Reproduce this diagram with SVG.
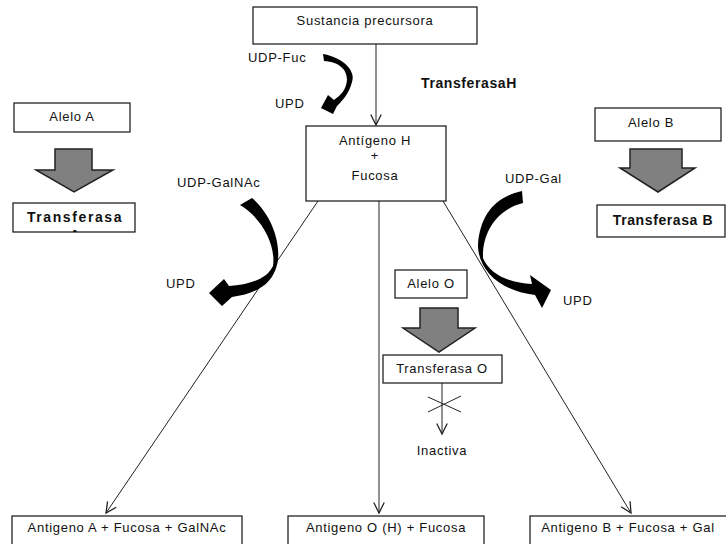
<svg xmlns="http://www.w3.org/2000/svg" width="726" height="544" viewBox="0 0 726 544">
<style>
text{font-family:"Liberation Sans",Arial,sans-serif;font-size:13px;fill:#111;letter-spacing:0.7px}
.c{text-anchor:middle}
.b{font-weight:bold;font-size:14px;letter-spacing:0.6px}
.box{fill:#fff;stroke:#111;stroke-width:1.2}
.blk{fill:#808080;stroke:#222;stroke-width:1.5;stroke-linejoin:miter}
.ln{stroke:#222;stroke-width:1;fill:none}
.cur{fill:#000}
</style>
<defs>
<marker id="v" markerUnits="userSpaceOnUse" markerWidth="14" markerHeight="14" refX="10" refY="5" orient="auto" viewBox="0 0 12 10">
<path d="M1 0.5 L10 5 L1 9.5" fill="none" stroke="#222" stroke-width="1.1"/>
</marker>
<clipPath id="clipA"><rect x="13" y="203" width="122" height="29"/></clipPath>
</defs>
<rect width="726" height="544" fill="#fff"/>

<g id="connectors">
<line class="ln" x1="376" y1="44" x2="376" y2="125" marker-end="url(#v)"/>
<line class="ln" x1="318" y1="201" x2="106" y2="513" marker-end="url(#v)"/>
<line class="ln" x1="379" y1="201" x2="379" y2="513" marker-end="url(#v)"/>
<line class="ln" x1="443" y1="201" x2="631" y2="513" marker-end="url(#v)"/>
<line class="ln" x1="442" y1="383" x2="442" y2="434" marker-end="url(#v)"/>
<path class="ln" d="M428 397 L461 412 M428 412 L461 396" stroke-width="1.4"/>
<path class="cur" d="M323 54 C345 58 356 72 352 82 C349 93 344 99 337 106 L333 114 L321 108 L328 95 L334 100 C341 95 346 90 347 80 C347 70 340 62 324 61 Z"/>
<path class="cur" d="M252 198 C272 215 282 245 277 265 C272 285 255 294 232 297 L222 306 L209 293 L224 279 L229 286 C250 285 268 278 273 266 C276 245 262 218 240 205 Z"/>
<path class="cur" d="M522 191 C495 197 480 215 478 245 C478 270 500 291 535 295 L542 308 L551 290 L530 275 L532 284 C510 283 490 275 483 258 C482 235 495 210 523 203 Z"/>
<polygon class="blk" points="55,149 92,149 92,170 113,170 74,192 36,170 55,170"/>
<polygon class="blk" points="630,149 682,149 682,168 695,168 658,192 620,168 630,168"/>
<polygon class="blk" points="420,308 458,308 458,328 475,328 439,352 403,328 420,328"/>
</g>

<g id="labels">
<text x="248" y="62">UDP-Fuc</text>
<text x="275" y="108">UPD</text>
<text class="b" x="421" y="88">TransferasaH</text>
<text x="177" y="187">UDP-GalNAc</text>
<text x="166" y="288">UPD</text>
<text x="505" y="183">UDP-Gal</text>
<text x="563" y="305">UPD</text>
<text class="c" x="442" y="455">Inactiva</text>
</g>

<g id="precursora">
<rect class="box" x="253" y="7" width="224" height="37"/>
<text class="c" x="365" y="25">Sustancia precursora</text>
</g>

<g id="antigenoH">
<rect class="box" x="306" y="126" width="140" height="75"/>
<text class="c" x="375" y="145">Antígeno H</text>
<text class="c" x="375" y="160">+</text>
<text class="c" x="375" y="180">Fucosa</text>
</g>

<g id="aleloA">
<rect class="box" x="14" y="103" width="116" height="29"/>
<text class="c" x="72" y="121">Alelo A</text>
</g>

<g id="transferasaA">
<rect class="box" x="13" y="203" width="122" height="29"/>
<g clip-path="url(#clipA)">
<text class="c b" x="75" y="222" style="letter-spacing:1.6px">Transferasa</text>
<text class="c b" x="75" y="240">A</text>
</g>
</g>

<g id="aleloB">
<rect class="box" x="595" y="108" width="126" height="33"/>
<text class="c" x="651" y="127">Alelo B</text>
</g>

<g id="transferasaB">
<rect class="box" x="597" y="205" width="128" height="32"/>
<text class="c b" x="663" y="225">Transferasa B</text>
</g>

<g id="aleloO">
<rect class="box" x="395" y="270" width="72" height="28"/>
<text class="c" x="431" y="288">Alelo O</text>
</g>

<g id="transferasaO">
<rect class="box" x="383" y="355" width="119" height="28"/>
<text class="c" x="442" y="373">Transferasa O</text>
</g>

<g id="antigenoA">
<rect class="box" x="12" y="516" width="230" height="40"/>
<text class="c" x="127" y="532">Antigeno A + Fucosa + GalNAc</text>
</g>

<g id="antigenoO">
<rect class="box" x="288" y="516" width="196" height="40"/>
<text class="c" x="386" y="532">Antigeno O (H) + Fucosa</text>
</g>

<g id="antigenoB">
<rect class="box" x="530" y="516" width="200" height="40"/>
<text class="c" x="628" y="532">Antigeno B + Fucosa + Gal</text>
</g>
</svg>
